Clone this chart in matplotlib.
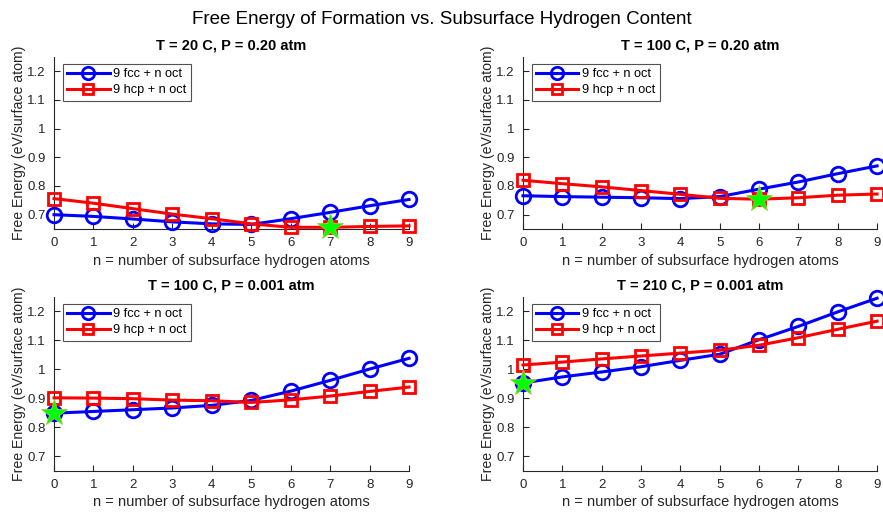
import matplotlib
matplotlib.use("Agg")
import matplotlib.pyplot as plt
from matplotlib.ticker import FuncFormatter
import numpy as np

plt.rcParams['font.family'] = ['Liberation Sans', 'DejaVu Sans']

n = list(range(10))

titles = ["T = 20 C, P = 0.20 atm", "T = 100 C, P = 0.20 atm",
          "T = 100 C, P = 0.001 atm", "T = 210 C, P = 0.001 atm"]

fcc_20C_020 = [0.700, 0.694, 0.685, 0.675, 0.668, 0.666, 0.686, 0.708, 0.731, 0.753]
hcp_20C_020 = [0.756, 0.740, 0.721, 0.702, 0.686, 0.668, 0.656, 0.656, 0.659, 0.661]

fcc_100C_020 = [0.766, 0.763, 0.761, 0.759, 0.756, 0.763, 0.789, 0.814, 0.843, 0.870]
hcp_100C_020 = [0.820, 0.808, 0.797, 0.784, 0.771, 0.757, 0.754, 0.759, 0.768, 0.772]

fcc_100C_0001 = [0.849, 0.855, 0.861, 0.867, 0.876, 0.893, 0.925, 0.962, 1.001, 1.038]
hcp_100C_0001 = [0.902, 0.901, 0.899, 0.894, 0.892, 0.886, 0.895, 0.908, 0.924, 0.939]

fcc_210C_0001 = [0.953, 0.974, 0.991, 1.009, 1.031, 1.052, 1.102, 1.148, 1.198, 1.245]
hcp_210C_0001 = [1.015, 1.025, 1.036, 1.046, 1.056, 1.066, 1.083, 1.109, 1.138, 1.166]

fcc_series = [fcc_20C_020, fcc_100C_020, fcc_100C_0001, fcc_210C_0001]
hcp_series = [hcp_20C_020, hcp_100C_020, hcp_100C_0001, hcp_210C_0001]

# minimum point (star) per panel: (n, value)
star_n = [7, 6, 0, 0]
star_val = [0.656, 0.754, 0.849, 0.953]

yticks = [0.7, 0.8, 0.9, 1.0, 1.1, 1.2]
ylim = (0.65, 1.25)

fig = plt.figure(figsize=(8.83, 5.17), dpi=100)
fig.suptitle("Free Energy of Formation vs. Subsurface Hydrogen Content",
             fontsize=13.5, y=0.978)

positions = [
    [0.0612, 0.557, 0.402, 0.333],
    [0.5923, 0.557, 0.401, 0.333],
    [0.0612, 0.089, 0.402, 0.337],
    [0.5923, 0.089, 0.401, 0.337],
]

axcol = '#262626'
for i in range(4):
    ax = fig.add_axes(positions[i])
    ax.plot(n, fcc_series[i], '-o', color='#0000ff', lw=2.2, ms=10.5,
            mfc='none', mew=2.0, label='9 fcc + n oct', clip_on=False, zorder=3)
    ax.plot(n, hcp_series[i], '-s', color='#ff0000', lw=2.2, ms=8,
            mfc='none', mew=2.0, label='9 hcp + n oct', clip_on=False, zorder=3)
    ax.plot([star_n[i]], [star_val[i]], '*', color='#00ff00', ms=20,
            mec='#9acd32', mew=0.6, clip_on=False, zorder=4)
    ax.set_xlim(0, 9)
    ax.set_ylim(*ylim)
    ax.set_xticks(n)
    ax.set_yticks(yticks)
    ax.yaxis.set_major_formatter(FuncFormatter(lambda v, p: '%g' % round(v, 2)))
    for s in ['top', 'right']:
        ax.spines[s].set_visible(False)
    for s in ['left', 'bottom']:
        ax.spines[s].set_color(axcol)
        ax.spines[s].set_linewidth(0.8)
    ax.tick_params(direction='in', length=4, width=0.8, colors=axcol,
                   labelsize=9.5, pad=6)
    ax.set_title(titles[i], fontsize=10.5, fontweight='bold', pad=5)
    ax.set_xlabel("n = number of subsurface hydrogen atoms", fontsize=10.5,
                  color=axcol, labelpad=3)
    ax.set_ylabel("Free Energy (eV/surface atom)", fontsize=10.2,
                  color=axcol, labelpad=1)
    leg = ax.legend(loc='upper left', fontsize=9.2, handlelength=3.3,
                    frameon=True, fancybox=False, borderpad=0.35,
                    labelspacing=0.3, handletextpad=0.3, markerscale=0.85,
                    bbox_to_anchor=(0.025, 0.96), borderaxespad=0)
    leg.get_frame().set_edgecolor(axcol)
    leg.get_frame().set_linewidth(0.8)

fig.savefig("out.png", dpi=100)
